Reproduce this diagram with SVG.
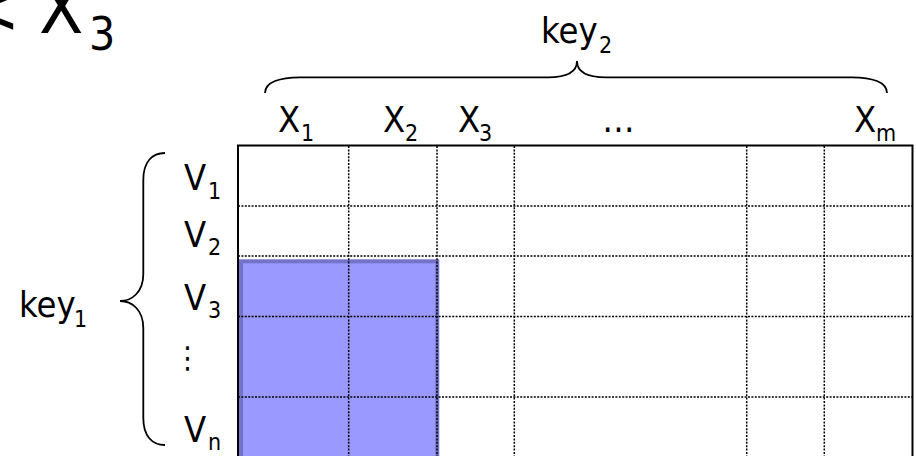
<svg xmlns="http://www.w3.org/2000/svg" width="916" height="456" viewBox="0 0 916 456">
<style>
text{font-family:"DejaVu Sans Condensed","DejaVu Sans",sans-serif;fill:#000}
.m{font-size:36px}
.s{font-size:23px}
.t{font-size:72px}
.ts{font-size:46px}
.dot{stroke:#000;stroke-width:1.5;stroke-dasharray:2 1.4;fill:none}
.brace{stroke:#000;stroke-width:1.8;fill:none}
</style>
<rect width="916" height="456" fill="#fff"/>
<g id="title">
<text class="t" x="20" y="33" text-anchor="end">&lt;</text>
<text class="t" x="39" y="33">X</text>
<text class="ts" x="89" y="50">3</text>
</g>
<g id="selection">
<rect x="241" y="261.3" width="196.3" height="200" fill="#9999ff" stroke="#7373c8" stroke-width="4"/>
</g>
<g id="grid">
<g class="dot">
<line x1="348.7" y1="146" x2="348.7" y2="456"/>
<line x1="437" y1="146" x2="437" y2="456"/>
<line x1="514.3" y1="146" x2="514.3" y2="456"/>
<line x1="746.7" y1="146" x2="746.7" y2="456"/>
<line x1="824.3" y1="146" x2="824.3" y2="456"/>
<line x1="238" y1="206" x2="912" y2="206"/>
<line x1="238" y1="256" x2="912" y2="256"/>
<line x1="238" y1="316.5" x2="912" y2="316.5"/>
<line x1="238" y1="397" x2="912" y2="397"/>
</g>
<path d="M238,460 V145.5 H912.5 V460" fill="none" stroke="#000" stroke-width="2"/>
</g>
<g id="connectors">
<path class="brace" d="M265,93 C265,82 280,77.3 300,77.3 L548,77.3 C566,77.3 577,72 577,61 C577,72 588,77.3 606,77.3 L852,77.3 C872,77.3 887,82 887,93"/>
<path class="brace" d="M165,153 C152,153 143.3,162 143.3,180 L143.3,274 C143.3,292 132,301 120,301 C132,301 143.3,310 143.3,328 L143.3,418 C143.3,436 152,445 165,445"/>
</g>
<g id="key2">
<text class="m" x="541" y="43.3">key</text>
<text class="s" x="599" y="53">2</text>
</g>
<g id="columns">
<text class="m" x="278" y="131.7">X</text><text class="s" x="301" y="140.7">1</text>
<text class="m" x="383" y="131.7">X</text><text class="s" x="405" y="140.7">2</text>
<text class="m" x="458" y="131.7">X</text><text class="s" x="479" y="140.7">3</text>
<text class="m" x="618.5" y="131.7" text-anchor="middle">…</text>
<text class="m" x="854" y="131.7">X</text><text class="s" x="876" y="140.7">m</text>
</g>
<g id="key1">
<text class="m" x="19" y="316.7">key</text>
<text class="s" x="74" y="327">1</text>
</g>
<g id="rows">
<text class="m" x="184" y="190">V</text><text class="s" x="208" y="198.5">1</text>
<text class="m" x="184" y="246.7">V</text><text class="s" x="208" y="255">2</text>
<text class="m" x="184" y="310">V</text><text class="s" x="208" y="318">3</text>
<text x="187.5" y="368" text-anchor="middle" style="font-size:30px">⋮</text>
<text class="m" x="184" y="441.7">V</text><text class="s" x="208" y="450">n</text>
</g>
</svg>
